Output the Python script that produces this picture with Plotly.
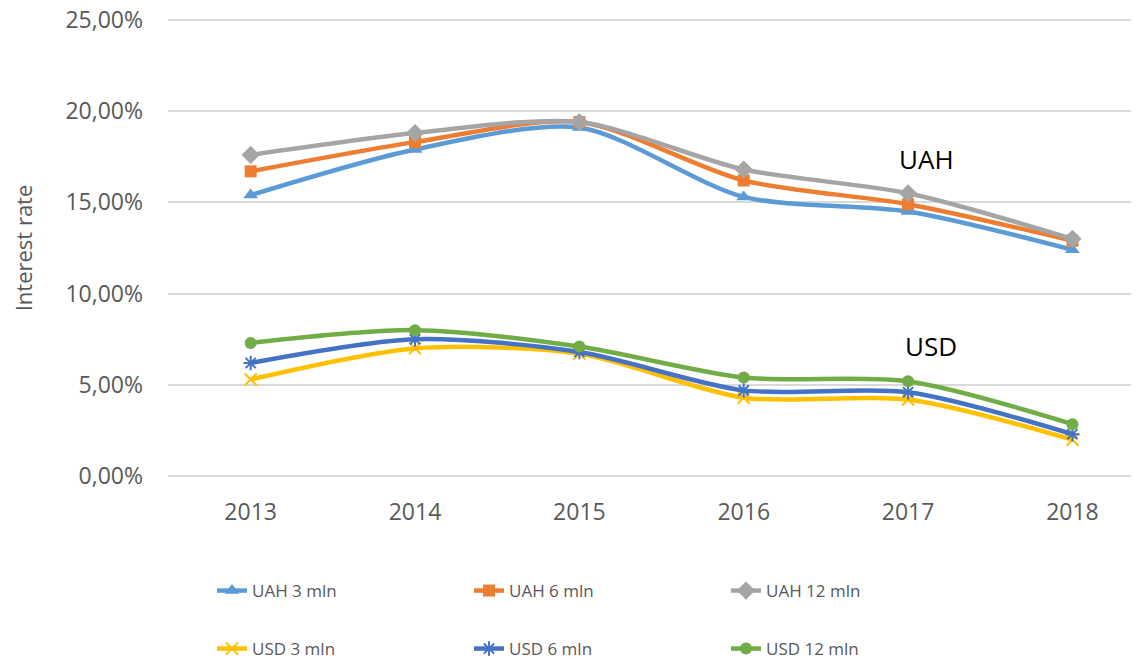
import plotly.graph_objects as go

years = [2013, 2014, 2015, 2016, 2017, 2018]
year_labels = ["2013", "2014", "2015", "2016", "2017", "2018"]
y_ticks = [0.0, 0.05, 0.10, 0.15, 0.20, 0.25]

uah_3 = [0.154, 0.179, 0.191, 0.153, 0.145, 0.124]
uah_6 = [0.167, 0.183, 0.194, 0.162, 0.149, 0.129]
uah_12 = [0.176, 0.188, 0.194, 0.168, 0.155, 0.130]
usd_3 = [0.053, 0.070, 0.067, 0.043, 0.042, 0.020]
usd_6 = [0.062, 0.075, 0.068, 0.047, 0.046, 0.023]
usd_12 = [0.073, 0.080, 0.071, 0.054, 0.052, 0.0285]

series = [
    ("UAH 3 mln", uah_3, "#5B9BD5", dict(symbol="triangle-up", size=13), "legend"),
    ("UAH 6 mln", uah_6, "#ED7D31", dict(symbol="square", size=12), "legend"),
    ("UAH 12 mln", uah_12, "#A5A5A5", dict(symbol="diamond", size=14), "legend"),
    ("USD 3 mln", usd_3, "#FFC000", dict(symbol="x-thin", size=12, line=dict(width=2, color="#FFC000")), "legend2"),
    ("USD 6 mln", usd_6, "#4472C4", dict(symbol="asterisk", size=12, line=dict(width=2, color="#4472C4")), "legend2"),
    ("USD 12 mln", usd_12, "#70AD47", dict(symbol="circle", size=12), "legend2"),
]

fig = go.Figure()
for name, vals, color, marker, leg in series:
    m = dict(color=color)
    m.update(marker)
    fig.add_trace(go.Scatter(
        x=years, y=vals, name=name, mode="lines+markers",
        line=dict(color=color, width=4.5, shape="spline", smoothing=0.8),
        marker=m, legend=leg,
    ))

FONT = "Open Sans"
GREY = "#595959"
W, H = 1131, 655  # page body adds an 8px offset

fig.update_layout(
    width=W, height=H,
    margin=dict(l=160, r=0, t=10, b=185),
    paper_bgcolor="white", plot_bgcolor="white",
    separators=", ",
    font=dict(family=FONT, color=GREY, size=23),
    xaxis=dict(
        tickmode="array", tickvals=years, ticktext=year_labels,
        range=[2012.497, 2018.405], showgrid=False, zeroline=False,
        showline=False, ticks="", ticklabelstandoff=18, automargin=False,
        tickfont=dict(size=23, color=GREY),
    ),
    yaxis=dict(
        range=[-0.001, 0.251], tickmode="array", tickvals=y_ticks, tickformat=".2%",
        showgrid=True, gridcolor="#D9D9D9", gridwidth=1.5,
        zeroline=False, showline=False, ticks="", automargin=False,
        ticklabelstandoff=24, ticklabeloverflow="allow",
        tickfont=dict(size=23, color=GREY),
        title=dict(text="Interest rate", font=dict(size=22, color=GREY), standoff=28),
    ),
    legend=dict(
        orientation="h", x=204 / W, xref="container", y=(H - 583) / H, yref="container",
        xanchor="left", yanchor="middle", entrywidth=212, font=dict(size=17, color=GREY),
        bgcolor="rgba(0,0,0,0)",
    ),
    legend2=dict(
        orientation="h", x=204 / W, xref="container", y=(H - 641) / H, yref="container",
        xanchor="left", yanchor="middle", entrywidth=212, font=dict(size=17, color=GREY),
        bgcolor="rgba(0,0,0,0)",
    ),
    annotations=[
        dict(x=2017.115, y=0.1735, xref="x", yref="y", text="UAH", showarrow=False,
             font=dict(size=26, color="#000000", family=FONT)),
        dict(x=2017.14, y=0.0715, xref="x", yref="y", text="USD", showarrow=False,
             font=dict(size=26, color="#000000", family=FONT)),
    ],
)

fig.write_html("out.html")
